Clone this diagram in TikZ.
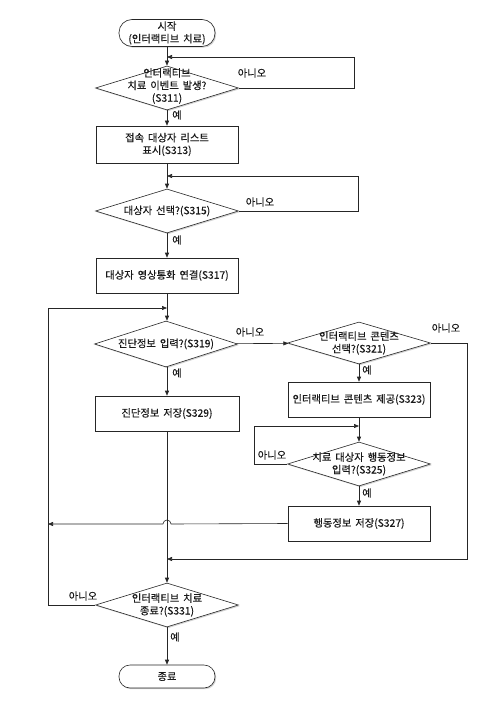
\documentclass[tikz,border=0pt]{standalone}
\usepackage{fontspec}
\setmainfont{Noto Sans CJK KR}[FakeBold=0.3,WordSpace=1.7]
\usetikzlibrary{shapes.geometric,arrows.meta,shadows}
\begin{document}
\begin{tikzpicture}[x=1pt,y=-1pt,
  font=\fontsize{10.3}{12.5}\selectfont,
  line width=0.6pt, draw=black!85, text=black!90,
  arr/.style={-{Triangle[length=5pt,width=4pt]}},
  shd/.style={drop shadow={shadow xshift=1.2pt,shadow yshift=-1.2pt,opacity=0.35}},
  term/.style={draw, rectangle, fill=white, shd, align=center, inner sep=0pt, minimum width=96pt},
  procbox/.style={draw, rectangle, fill=white, shd, minimum width=142pt, minimum height=35pt, align=center, inner sep=1pt},
  dia/.style={draw, diamond, fill=white, shd, inner sep=0pt, minimum width=143pt, minimum height=44pt},
  txt/.style={align=center, inner sep=0pt},
  lbl/.style={inner sep=0pt}
]
\useasboundingbox (0,0) rectangle (501,722);
\fill[white] (0,0) rectangle (501,722);

% nodes
\node[term, minimum height=27pt, rounded corners=13pt] (start) at (167,33) {시작\\(인터랙티브 치료)};
\node[dia] (d311) at (167,88) {};
\node[txt] at (167,86) {인터랙티브\\치료 이벤트 발생?\\(S311)};
\node[procbox, minimum height=37pt] (b313) at (167,144.5) {접속 대상자 리스트\\표시(S313)};
\node[dia] (d315) at (167,211) {};
\node[txt] at (d315) {대상자 선택?(S315)};
\node[procbox] (b317) at (167,275.5) {대상자 영상통화 연결(S317)};
\node[dia, minimum height=46pt] (d319) at (166,344) {};
\node[txt] at (d319) {진단정보 입력?(S319)};
\node[dia, minimum height=42pt] (d321) at (359,343) {};
\node[txt] at (d321) {인터랙티브 콘텐츠\\선택?(S321)};
\node[procbox] (b323) at (359,399.5) {인터랙티브 콘텐츠 제공(S323)};
\node[procbox, minimum width=144pt] (b329) at (167,413.5) {진단정보 저장(S329)};
\node[dia] (d325) at (359,464) {};
\node[txt] at (d325) {치료 대상자 행동정보\\입력?(S325)};
\node[procbox] (b327) at (359,523.5) {행동정보 저장(S327)};
\node[dia] (d331) at (167,605) {};
\node[txt] at (d331) {인터랙티브 치료\\종료?(S331)};
\node[term, minimum height=23pt, rounded corners=11pt] (end) at (167,676.5) {종료};

% junction coordinates
\coordinate (j311) at (167,57);
\coordinate (j315) at (167,176);
\coordinate (j319) at (167,308);
\coordinate (j325) at (359,426);
\coordinate (j331) at (167,559);
\coordinate (jleft) at (48,524);

% connectors
\draw[arr] (start) -- (d311);
\draw[arr] (d311.east) -- (354,88) |- (j311);
\draw[arr] (d311) -- (b313);
\draw[arr] (b313) -- (d315);
\draw[arr] (d315.east) -- (358,211) |- (j315);
\draw[arr] (d315) -- (b317);
\draw[arr] (b317.south) -- (d319.north -| b317.south);
\draw[arr] (d319) -- (d321);
\draw[arr] (d319.south -| b329.north) -- (b329.north);
\draw[arr] (d321.east) -- (467,343) |- (j331);
\draw[arr] (d321) -- (b323);
\draw[arr] (b323) -- (d325);
\draw[arr] (d325.west) -- (254,464) |- (j325);
\draw[arr] (d325) -- (b327);
\draw[arr] (b327.west) -- (171,524) arc[start angle=0,end angle=180,radius=4pt] -- (jleft);
\draw[arr] (b329.south) -- (d331.north -| b329.south);
\draw[arr] (d331.west) -- (48,605) |- (j319);
\draw[arr] (d331) -- (end);

% labels
\node[lbl] at (252,73) {아니오};
\node[lbl] at (260,202) {아니오};
\node[lbl] at (250,332) {아니오};
\node[lbl] at (446,328) {아니오};
\node[lbl] at (272,455) {아니오};
\node[lbl] at (83,596) {아니오};
\node[lbl] at (177,115) {예};
\node[lbl] at (177,240) {예};
\node[lbl] at (177,373) {예};
\node[lbl] at (367,370) {예};
\node[lbl] at (367,493) {예};
\node[lbl] at (175,637) {예};
\end{tikzpicture}
\end{document}
